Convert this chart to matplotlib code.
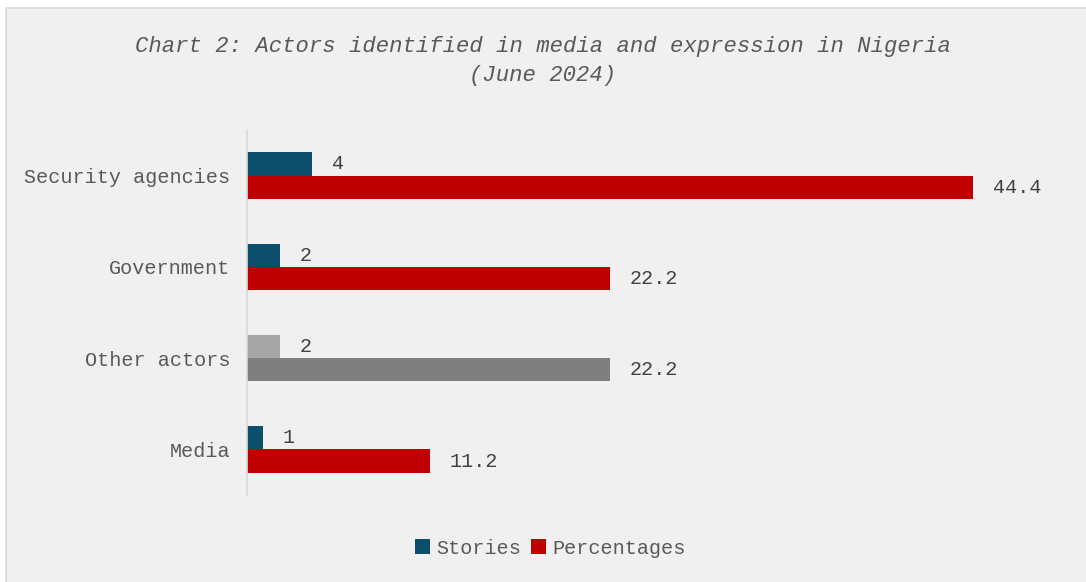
import matplotlib.pyplot as plt
from matplotlib.patches import Rectangle

categories = ["Security agencies", "Government", "Other actors", "Media"]
stories = [4, 2, 2, 1]
percentages = [44.4, 22.2, 22.2, 11.2]

# Other actors is drawn in greys in the original
story_colors = ["#0B4F6C", "#0B4F6C", "#A6A6A6", "#0B4F6C"]
pct_colors = ["#C00000", "#C00000", "#7F7F7F", "#C00000"]

font = "Liberation Mono"
bg = "#F0F0F0"

fig = plt.figure(figsize=(10.86, 5.82), dpi=100, facecolor="white")
# grey panel with thin border, like the screenshot
fig.patches.append(Rectangle((6 / 1086, -0.01), 1.02, 1 - 8 / 582 + 0.01,
                             transform=fig.transFigure, facecolor=bg,
                             edgecolor="#D9D9D9", linewidth=1.2, zorder=-10))

ax = fig.add_axes([247 / 1086, 87 / 582, (1065 - 247) / 1086, 365 / 582])
ax.set_facecolor(bg)

h = 0.256
ypos = [3 - i for i in range(len(categories))]
ys = [y + h / 2 for y in ypos]
yp = [y - h / 2 for y in ypos]

ax.barh(ys, stories, height=h, color=story_colors, label="Stories")
ax.barh(yp, percentages, height=h, color=pct_colors, label="Percentages")

for y, v in zip(ys, stories):
    ax.text(v + 1.2, y, str(v), va="center", ha="left", fontsize=14.5,
            family=font, color="#404040")
for y, v in zip(yp, percentages):
    ax.text(v + 1.2, y, f"{v:.1f}", va="center", ha="left", fontsize=14.5,
            family=font, color="#404040")

ax.set_xlim(0, 50)
ax.set_ylim(-0.5, 3.5)
ax.set_xticks([])
ax.set_yticks(ypos)
ax.set_yticklabels(categories, family=font, fontsize=14.5, color="#595959")
ax.tick_params(axis="y", length=0, pad=12)
for side in ["top", "right", "bottom"]:
    ax.spines[side].set_visible(False)
ax.spines["left"].set_color("#D9D9D9")
ax.spines["left"].set_linewidth(1.2)

fig.text(0.5, 1 - 61 / 582,
         "Chart 2: Actors identified in media and expression in Nigeria\n(June 2024)",
         ha="center", va="center", fontsize=16, family=font, style="italic",
         color="#595959", linespacing=1.45)

leg = fig.legend(loc="center", bbox_to_anchor=(550 / 1086, 1 - 548 / 582),
                 ncol=2, frameon=False, handlelength=0.75, handleheight=0.75,
                 handletextpad=0.3, columnspacing=0.5,
                 prop={"family": font, "size": 14.5})
for t in leg.get_texts():
    t.set_color("#595959")

fig.savefig("out.png", dpi=100, facecolor="white")
